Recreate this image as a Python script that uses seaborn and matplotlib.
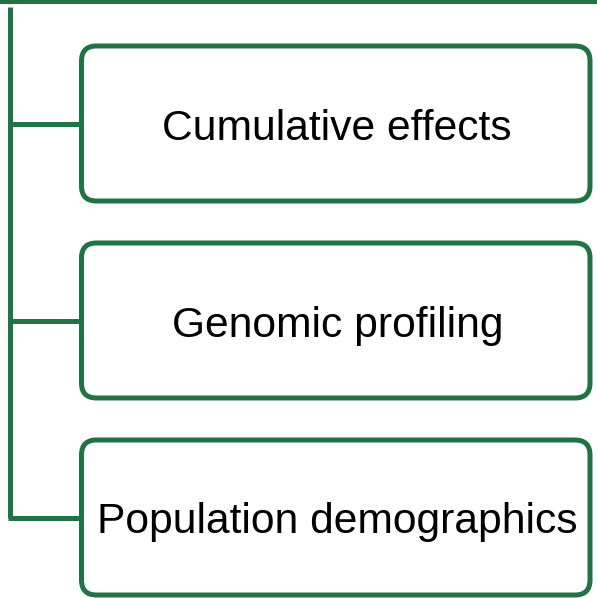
import matplotlib
matplotlib.use("Agg")
import matplotlib.pyplot as plt
from matplotlib.patches import FancyBboxPatch
import seaborn as sns

# boxes of the tree, top to bottom
labels = ["Cumulative effects", "Genomic profiling", "Population demographics"]
box_tops = [46, 243, 440]
box_height = 155
box_left, box_right = 81.5, 590
trunk_x = 10

green = "#217346"

sns.set_theme(style="white")
plt.rcParams["font.family"] = ["Liberation Sans", "DejaVu Sans"]

fig = plt.figure(figsize=(5.97, 5.98), dpi=100)
ax = fig.add_axes([0, 0, 1, 1])
ax.set_xlim(0, 597)
ax.set_ylim(598, 0)
ax.axis("off")

lw = 3.6

# top bar
ax.plot([0, 597], [2, 2], color=green, lw=3.0, solid_capstyle="butt")

centres = [t + box_height / 2 for t in box_tops]

# trunk
ax.plot([trunk_x, trunk_x], [7, centres[-1]], color=green, lw=lw,
        solid_capstyle="butt", solid_joinstyle="miter")

for top, cy, label in zip(box_tops, centres, labels):
    ax.plot([trunk_x - 1.8, box_left], [cy, cy], color=green, lw=lw,
            solid_capstyle="butt")
    box = FancyBboxPatch((box_left, top), box_right - box_left, box_height,
                         boxstyle="round,pad=0,rounding_size=15",
                         facecolor="white", edgecolor=green, linewidth=lw)
    ax.add_patch(box)
    ax.text((box_left + box_right) / 2 + 1.5, cy + 16, label, ha="center",
            va="baseline", fontsize=30.7, color="black")

fig.savefig("out.png", dpi=100)
